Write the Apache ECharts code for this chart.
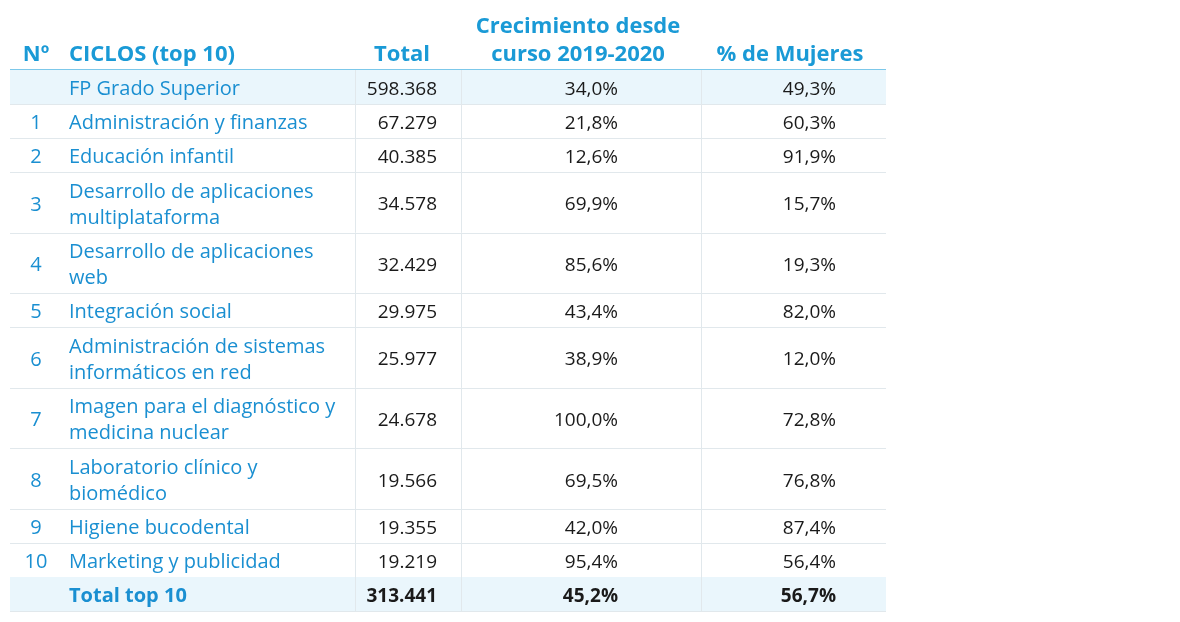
<!DOCTYPE html>
<html><head><meta charset="utf-8">
<script src="https://cdn.jsdelivr.net/npm/echarts@6/dist/echarts.min.js"></script>
<style>html,body{margin:0;padding:0;background:#fff}#c{width:1180px;height:622px}</style>
</head><body><div id="c"></div>
<script>
// ---- data ----
const headers = ['Nº', 'CICLOS (top 10)', 'Total', 'Crecimiento desde\ncurso 2019-2020', '% de Mujeres'];
const ranks = ['', '1', '2', '3', '4', '5', '6', '7', '8', '9', '10', ''];
const ciclos = [
  'FP Grado Superior',
  'Administración y finanzas',
  'Educación infantil',
  'Desarrollo de aplicaciones\nmultiplataforma',
  'Desarrollo de aplicaciones\nweb',
  'Integración social',
  'Administración de sistemas\ninformáticos en red',
  'Imagen para el diagnóstico y\nmedicina nuclear',
  'Laboratorio clínico y\nbiomédico',
  'Higiene bucodental',
  'Marketing y publicidad',
  'Total top 10'
];
const totals = [598368, 67279, 40385, 34578, 32429, 29975, 25977, 24678, 19566, 19355, 19219, 313441];
const crecimiento = [34.0, 21.8, 12.6, 69.9, 85.6, 43.4, 38.9, 100.0, 69.5, 42.0, 95.4, 45.2];
const mujeres = [49.3, 60.3, 91.9, 15.7, 19.3, 82.0, 12.0, 72.8, 76.8, 87.4, 56.4, 56.7];

// ---- formatting ----
function fmtInt(v) { return String(v).replace(/\B(?=(\d{3})+(?!\d))/g, '.'); }
function fmtPct(v) { return v.toFixed(1).replace('.', ',') + '%'; }

// ---- layout (style) ----
const TABLE_W = 876;
const HEADER_H = 60;
const ONE_LINE_H = 34, TWO_LINE_H = 60.6;
const COLS = { div1: 345, div2: 451, div3: 691, rank: 26, name: 59, total: 427, growth: 608, women: 826,
               hTotal: 392, hGrowth: 568, hWomen: 780 };
const BLUE = '#1a9ad6', NAME_BLUE = '#1a8fd1', DARK = '#1a1a1a';
const HILITE = '#eaf6fc', GRID = '#e1e8ec', HEAD_LINE = '#7cc8ea';
const FONT = '"Open Sans", "Noto Sans", sans-serif';
const TEXT_DY = 2.5;

const rows = [];
let acc = HEADER_H;
ciclos.forEach((c, i) => {
  const h = c.split('\n').length > 1 ? TWO_LINE_H : ONE_LINE_H;
  rows.push([acc, acc + h, i]);
  acc += h;
});
const lastIdx = ciclos.length - 1;

const chart = echarts.init(document.getElementById('c'), null, { renderer: 'canvas' });

function renderItem(params, api) {
  const i = api.value(2);
  const y0 = api.coord([0, api.value(0)])[1];
  const y1 = api.coord([0, api.value(1)])[1];
  const X = u => api.coord([u, 0])[0];
  const yc = (y0 + y1) / 2 + TEXT_DY;
  const hi = (i === 0 || i === lastIdx);
  const bold = i === lastIdx;
  const ch = [];
  if (hi) ch.push({ type: 'rect', shape: { x: X(0), y: y0, width: X(TABLE_W) - X(0), height: y1 - y0 }, style: { fill: HILITE } });
  [COLS.div1, COLS.div2, COLS.div3].forEach(d => {
    const xx = Math.round(X(d)) + 0.5;
    ch.push({ type: 'line', shape: { x1: xx, y1: y0, x2: xx, y2: y1 }, style: { stroke: GRID, lineWidth: 1 } });
  });
  const yb = Math.round(y1) + 0.5;
  ch.push({ type: 'line', shape: { x1: X(0), y1: yb, x2: X(TABLE_W), y2: yb }, style: { stroke: GRID, lineWidth: 1 } });
  const t = (x, txt, align, color, b, size) => ({ type: 'text', x: x, y: yc, style: {
    text: txt, align: align, verticalAlign: 'middle', fill: color, font: (b ? 'bold ' : '') + size + 'px ' + FONT, lineHeight: 26 } });
  ch.push(t(X(COLS.rank), ranks[i], 'center', NAME_BLUE, false, 20));
  ch.push(t(X(COLS.name), ciclos[i], 'left', NAME_BLUE, bold, 20));
  ch.push(t(X(COLS.total), fmtInt(totals[i]), 'right', DARK, bold, 19));
  ch.push(t(X(COLS.growth), fmtPct(crecimiento[i]), 'right', DARK, bold, 19));
  ch.push(t(X(COLS.women), fmtPct(mujeres[i]), 'right', DARK, bold, 19));
  if (i === 0) {
    ch.push({ type: 'rect', z2: 10, shape: { x: X(0), y: Math.round(y0) - 1, width: X(TABLE_W) - X(0), height: 1 }, style: { fill: HEAD_LINE } });
    const hb = y0 - 1;
    const h = (x, txt, align) => ({ type: 'text', x: x, y: hb, style: {
      text: txt, align: align, verticalAlign: 'bottom', fill: BLUE, font: 'bold 22px ' + FONT, lineHeight: 28 } });
    ch.push(h(X(COLS.rank), headers[0], 'center'));
    ch.push(h(X(COLS.name), headers[1], 'left'));
    ch.push(h(X(COLS.hTotal), headers[2], 'center'));
    ch.push(h(X(COLS.hGrowth), headers[3], 'center'));
    ch.push(h(X(COLS.hWomen), headers[4], 'center'));
  }
  return { type: 'group', children: ch };
}

const hiddenAxis = { show: false, axisLine: { show: false, onZero: false }, axisTick: { show: false }, axisLabel: { show: false }, splitLine: { show: false } };

chart.setOption({
  animation: false,
  grid: { left: 10, top: 10, width: TABLE_W, height: acc, show: false },
  xAxis: Object.assign({ type: 'value', min: 0, max: TABLE_W }, hiddenAxis),
  yAxis: Object.assign({ type: 'value', min: 0, max: acc, inverse: true }, hiddenAxis),
  series: [{ type: 'custom', renderItem: renderItem, data: rows, clip: false, encode: { x: -1, y: [0, 1] } }]
});
</script></body></html>
